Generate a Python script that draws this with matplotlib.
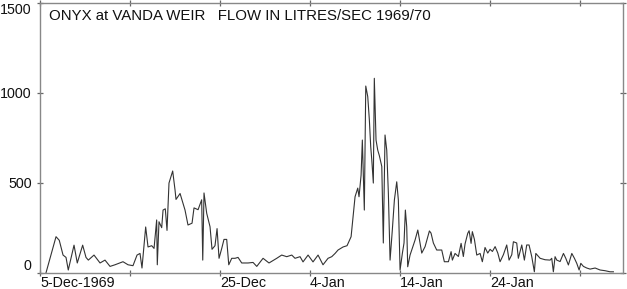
import matplotlib as mpl
mpl.use("Agg")
import matplotlib.pyplot as plt

# days after 5-Dec-1969 00:00 and flow in litres/sec
day = [0.67, 1.78, 2.14, 2.56, 2.89, 3.14, 3.78, 4.14, 4.74, 5.11,
       5.37, 6.0, 6.67, 7.22, 7.78, 8.33, 9.22, 9.78, 10.33, 10.78,
       11.11, 11.33, 11.74, 12.0, 12.41, 12.67, 12.96, 13.03, 13.22, 13.52,
       13.67, 13.92, 14.11, 14.33, 14.74, 15.0, 15.11, 15.56, 16.11, 16.44,
       16.89, 17.11, 17.56, 17.96, 18.08, 18.22, 18.52, 18.89, 19.11, 19.44,
       19.67, 19.89, 20.19, 20.44, 20.74, 20.97, 21.3, 21.67, 22.0, 22.41,
       23.11, 23.67, 24.08, 24.78, 25.44, 26.3, 26.85, 27.41, 27.97, 28.33,
       28.89, 29.22, 29.78, 30.33, 30.89, 31.44, 32.0, 32.41, 32.78, 33.11,
       33.67, 34.11, 34.56, 35.0, 35.3, 35.44, 35.67, 35.81, 36.03, 36.19,
       36.41, 36.59, 36.74, 36.86, 37.03, 37.14, 37.33, 37.52, 37.7, 37.97,
       38.14, 38.33, 38.52, 38.7, 38.89, 39.14, 39.37, 39.63, 39.81, 40.0,
       40.26, 40.44, 40.59, 40.74, 40.85, 41.11, 41.3, 41.67, 41.97, 42.41,
       42.78, 43.26, 43.44, 43.7, 44.07, 44.63, 44.92, 45.37, 45.67, 45.81,
       46.11, 46.48, 46.78, 47.03, 47.22, 47.52, 47.67, 47.89, 48.03, 48.26,
       48.52, 48.89, 49.14, 49.44, 49.74, 50.0, 50.26, 50.56, 50.86, 51.11,
       51.48, 51.85, 52.11, 52.41, 52.59, 52.96, 53.14, 53.52, 53.81, 54.07,
       54.33, 54.63, 54.92, 55.08, 55.56, 56.11, 56.67, 56.85, 57.03, 57.22,
       57.41, 57.78, 58.15, 58.41, 58.7, 59.08, 59.37, 59.63, 59.89, 60.08,
       60.37, 60.74, 61.11, 61.67, 62.22, 62.78, 63.33, 63.7]
flow = [0, 200, 180, 98, 85, 15, 153, 54, 153, 85,
        70, 98, 54, 70, 35, 44, 61, 44, 39, 98,
        107, 26, 254, 143, 150, 135, 293, 44, 283, 250,
        348, 355, 235, 498, 565, 460, 407, 440, 348, 265,
        275, 360, 350, 405, 70, 443, 330, 255, 130, 150,
        245, 80, 135, 185, 185, 44, 80, 80, 85, 54,
        54, 57, 35, 80, 54, 80, 98, 89, 98, 80,
        89, 60, 98, 60, 98, 44, 80, 89, 107, 126,
        143, 150, 200, 422, 470, 422, 542, 737, 348, 1037,
        978, 848, 700, 626, 498, 1080, 737, 681, 650, 590,
        165, 765, 681, 442, 70, 237, 404, 505, 404, 15,
        109, 165, 348, 255, 33, 98, 126, 182, 237, 109,
        145, 232, 220, 165, 126, 126, 61, 61, 117, 70,
        107, 90, 163, 90, 160, 219, 233, 163, 228, 185,
        98, 107, 61, 140, 109, 130, 118, 145, 109, 61,
        100, 154, 70, 100, 172, 165, 80, 154, 70, 154,
        154, 89, 5, 107, 80, 72, 70, 80, 5, 89,
        70, 62, 107, 80, 43, 107, 80, 52, 15, 52,
        35, 26, 20, 26, 15, 11, 5, 5]

xticks = [0, 10, 20, 30, 40, 50, 60]
xlabels = ['5-Dec-1969', '', '25-Dec', '4-Jan', '14-Jan', '24-Jan', '']
yticks = [0, 500, 1000, 1500]

plt.rcParams['font.family'] = ['Liberation Sans', 'DejaVu Sans']

fig = plt.figure(figsize=(6.27, 2.89), dpi=100)
ax = fig.add_axes([40/627, 16.3/289, 583.3/627, 270/289])

ax.plot(day, flow, color='#333333', linewidth=0.8)

ax.set_xlim(0, 64.8)
ax.set_ylim(0, 1500)
ax.set_xticks(xticks)
ax.set_xticklabels(xlabels, ha='left')
ax.set_yticks(yticks)
ax.set_yticklabels([str(v) for v in yticks])

for s in ax.spines.values():
    s.set_color('#888888')
    s.set_linewidth(1.0)

ax.tick_params(axis='both', direction='inout', length=4, width=0.9,
               color='#666666', labelsize=10.3, labelcolor='#111111',
               top=True, right=True)
ax.tick_params(axis='x', pad=0.3)
ax.tick_params(axis='y', pad=4)

ylabs = ax.get_yticklabels()
ylabs[0].set_va('bottom')
ylabs[-1].set_va('top')

ax.text(0.016, 0.975, 'ONYX at VANDA WEIR   FLOW IN LITRES/SEC 1969/70',
        transform=ax.transAxes, ha='left', va='top', fontsize=10.8,
        color='#111111')

fig.savefig('out.png', dpi=100)
